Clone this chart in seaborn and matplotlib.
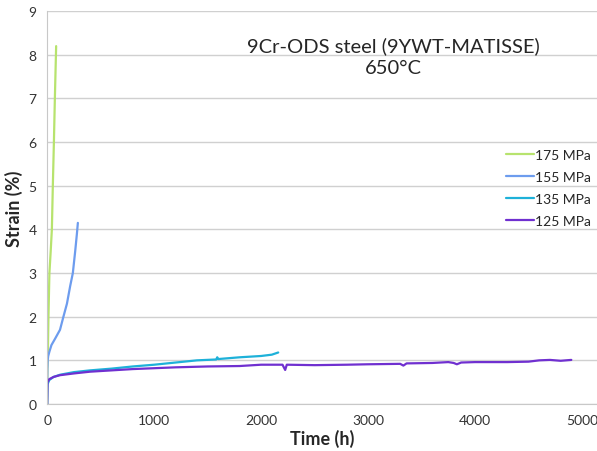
import pandas as pd
import numpy as np
import seaborn as sns
import matplotlib.pyplot as plt

# creep curves: time (h), strain (%)
t_175 = [0, 2, 6, 12, 21, 33, 44, 53, 63, 72, 80, 84]
s_175 = [0, 0.8, 1.1, 2.0, 3.0, 3.5, 4.0, 5.0, 6.0, 7.0, 7.8, 8.2]

t_155 = [0, 2, 5, 10, 21, 40, 75, 120, 152, 185, 215, 240, 262, 278, 287]
s_155 = [0.4, 0.8, 1.0, 1.1, 1.2, 1.35, 1.5, 1.7, 2.0, 2.3, 2.7, 3.0, 3.5, 3.9, 4.15]

t_135 = [0, 3, 20, 60, 120, 250, 400, 600, 800, 1000, 1200, 1400, 1580, 1590, 1600, 1800, 2000, 2100, 2160]
s_135 = [0.0, 0.45, 0.55, 0.62, 0.67, 0.73, 0.77, 0.81, 0.86, 0.9, 0.95, 1.0, 1.02, 1.07, 1.03, 1.07, 1.1, 1.13, 1.18]

t_125 = [0, 3, 20, 60, 120, 250, 400, 600, 800, 1000, 1200, 1500, 1800, 2000, 2200, 2225, 2240, 2500, 2800,
         3000, 3300, 3330, 3360, 3600, 3750, 3800, 3830, 3870, 4000, 4300, 4500, 4600, 4700, 4800, 4900]
s_125 = [0.0, 0.5, 0.57, 0.62, 0.66, 0.7, 0.74, 0.77, 0.8, 0.82, 0.84, 0.86, 0.87, 0.9, 0.9, 0.78, 0.9, 0.89, 0.9,
         0.91, 0.92, 0.88, 0.93, 0.94, 0.96, 0.94, 0.91, 0.95, 0.96, 0.96, 0.97, 1.0, 1.01, 0.99, 1.01]

labels = ["175 MPa", "155 MPa", "135 MPa", "125 MPa"]
colors = ["#b7e36e", "#6d9cee", "#1eb1d9", "#7030d0"]

df = pd.concat([
    pd.DataFrame({"t": t_175, "s": s_175, "load": labels[0]}),
    pd.DataFrame({"t": t_155, "s": s_155, "load": labels[1]}),
    pd.DataFrame({"t": t_135, "s": s_135, "load": labels[2]}),
    pd.DataFrame({"t": t_125, "s": s_125, "load": labels[3]}),
])

sns.set_style("white")
plt.rcParams["font.family"] = ["Lato", "DejaVu Sans"]

fig = plt.figure(figsize=(5.97, 4.52), dpi=100)
ax = fig.add_axes([0.079, 0.104, 0.921, 0.869])

sns.lineplot(data=df, x="t", y="s", hue="load", palette=dict(zip(labels, colors)),
             sort=False, estimator=None, linewidth=1.6, ax=ax)

ax.set_xlim(0, 5140)
ax.set_ylim(0, 9)
ax.set_xticks([0, 1000, 2000, 3000, 4000, 5000])
ax.set_yticks(range(10))
ax.grid(axis="y", color="#d0d0d0", linewidth=1)
ax.set_axisbelow(True)
for side in ["top", "right"]:
    ax.spines[side].set_visible(False)
for side in ["left", "bottom"]:
    ax.spines[side].set_color("#c8c8c8")
ax.tick_params(axis="both", labelsize=10, colors="#333333")
ax.tick_params(axis="x", direction="out", length=4, color="#c8c8c8")
ax.tick_params(axis="y", direction="out", length=4, color="#c8c8c8")
ax.set_xlabel("Time (h)", fontsize=13, fontweight="bold", labelpad=2)
ax.set_ylabel("Strain (%)", fontsize=13, fontweight="bold", labelpad=4)

ax.text(0.63, 0.885, "9Cr-ODS steel (9YWT-MATISSE)\n650°C", transform=ax.transAxes,
        ha="center", va="center", fontsize=14.5, linespacing=1.35)

ax.legend(loc="center left", bbox_to_anchor=(0.812, 0.551), frameon=False, fontsize=10,
          handlelength=2.0, handletextpad=0.1, labelspacing=0.72, title=None)

fig.savefig("out.png", dpi=100)
